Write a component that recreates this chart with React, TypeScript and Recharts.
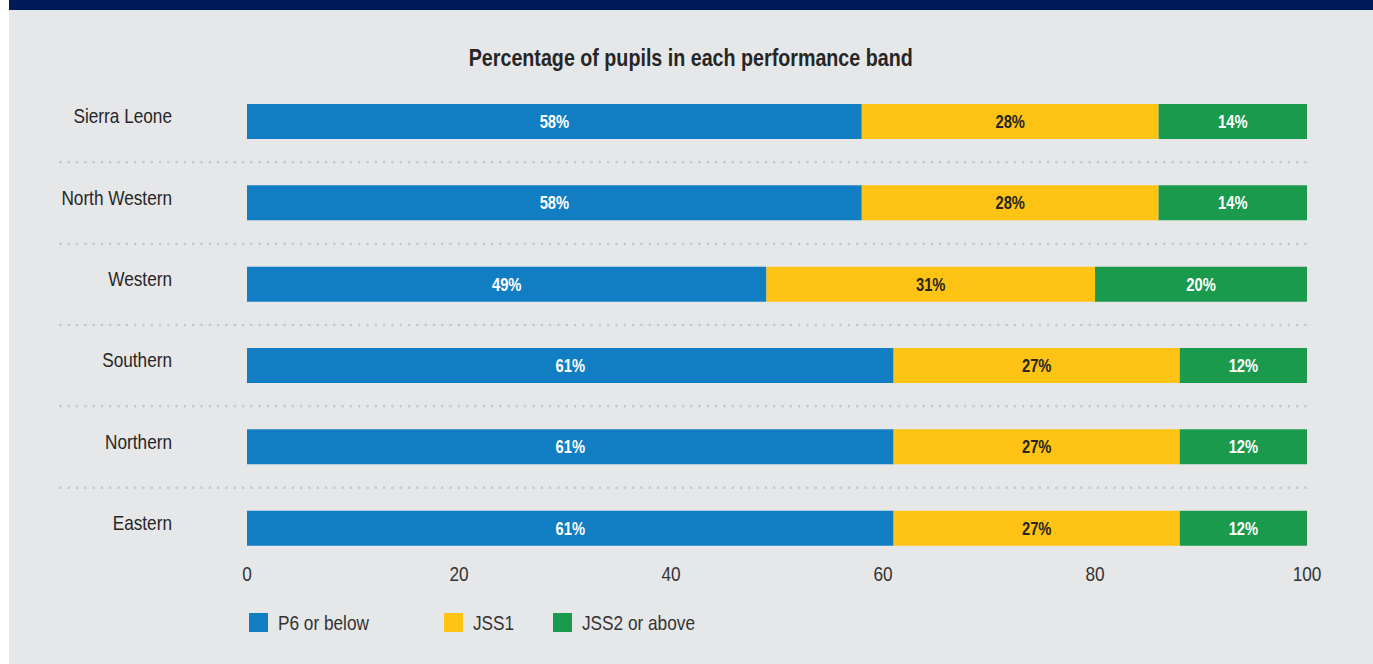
import React from 'react';
import {
  BarChart,
  Bar,
  XAxis,
  YAxis,
  LabelList,
  ReferenceLine,
  Legend,
} from 'recharts';

const regions = ['Sierra Leone', 'North Western', 'Western', 'Southern', 'Northern', 'Eastern'];
const p6OrBelow = [58, 58, 49, 61, 61, 61];
const jss1 = [28, 28, 31, 27, 27, 27];
const jss2OrAbove = [14, 14, 20, 12, 12, 12];
const xTicks = [0, 20, 40, 60, 80, 100];
const seriesNames = ['P6 or below', 'JSS1', 'JSS2 or above'];

const FONT = '"Liberation Sans", Arial, sans-serif';
const NARROW = 0.82; // no narrow face installed, so squeeze the regular one
const BLUE = '#117ec4';
const YELLOW = '#fec313';
const GREEN = '#1a9a4d';
const seriesColors = [BLUE, YELLOW, GREEN];
const TEXT = '#262626';

const rows = regions.map((region, i) => ({
  region,
  p6: p6OrBelow[i],
  jss1: jss1[i],
  jss2: jss2OrAbove[i],
}));

// dotted separator above every region except the first (drawn at band start)
const separators = regions.slice(1);
const separatorStart = -17.6; // in x-axis units, reaches left under the labels

const NarrowText = ({ x, y, anchor, children, ...rest }: any) => (
  <text
    transform={`translate(${x},${y}) scale(${NARROW},1)`}
    textAnchor={anchor}
    dy="0.36em"
    fontFamily={FONT}
    {...rest}
  >
    {children}
  </text>
);

const RegionTick = ({ x, y, payload }: any) => (
  <NarrowText x={x} y={y - 6} anchor="end" fill={TEXT} fontSize={21}>
    {payload.value}
  </NarrowText>
);

const ValueTick = ({ x, y, payload }: any) => (
  <NarrowText x={x} y={y + 4} anchor="middle" fill="#333" fontSize={21}>
    {payload.value}
  </NarrowText>
);

const makeBarLabel = (color: string) => (props: any) => {
  const { x, y, width, height, value } = props;
  return (
    <NarrowText
      x={Number(x) + Number(width) / 2}
      y={Number(y) + Number(height) / 2}
      anchor="middle"
      fill={color}
      fontSize={18}
      fontWeight={700}
    >
      {`${value}%`}
    </NarrowText>
  );
};

const legendWidths = [195, 109, 160];

const renderLegend = () => (
  <div style={{ display: 'flex', alignItems: 'center', fontFamily: FONT, fontSize: 21, color: '#333', whiteSpace: 'nowrap' }}>
    {seriesNames.map((name, i) => (
      <div key={name} style={{ display: 'flex', alignItems: 'center', width: legendWidths[i] }}>
        <span style={{ width: 19, height: 19, background: seriesColors[i], marginRight: 10, display: 'inline-block', flex: 'none' }} />
        <span
          style={{
            lineHeight: '19px',
            display: 'inline-block',
            transform: `scaleX(${NARROW})`,
            transformOrigin: 'left center',
          }}
        >
          {name}
        </span>
      </div>
    ))}
  </div>
);

export default function App() {
  return (
    <div
      style={{
        position: 'absolute',
        left: 9,
        top: 0,
        width: 1364,
        height: 664,
        background: '#e6e7e9',
        fontFamily: FONT,
      }}
    >
      <div style={{ position: 'absolute', left: 0, top: 0, width: '100%', height: 10, background: '#001a57' }} />
      <div
        style={{
          position: 'absolute',
          top: 44,
          left: 0,
          width: '100%',
          textAlign: 'center',
          fontSize: 24,
          fontWeight: 700,
          color: TEXT,
          lineHeight: '28px',
        }}
      >
        <span style={{ display: 'inline-block', transform: `scaleX(${NARROW})`, transformOrigin: 'center' }}>
          Percentage of pupils in each performance band
        </span>
      </div>
      <div style={{ position: 'absolute', left: 0, top: 0 }}>
        <BarChart
          width={1364}
          height={664}
          data={rows}
          layout="vertical"
          margin={{ top: 81, right: 66, bottom: 65, left: 0 }}
        >
          <XAxis
            type="number"
            domain={[0, 100]}
            ticks={xTicks}
            axisLine={false}
            tickLine={false}
            tickSize={0}
            tickMargin={0}
            height={30}
            tick={<ValueTick />}
            interval={0}
          />
          <YAxis
            type="category"
            dataKey="region"
            width={238}
            axisLine={false}
            tickLine={false}
            tickSize={0}
            tickMargin={75}
            tick={<RegionTick />}
            interval={0}
          />
          {separators.map((r) => (
            <ReferenceLine
              key={r}
              position="start"
              segment={[
                { x: separatorStart, y: r },
                { x: 100, y: r },
              ]}
              ifOverflow="visible"
              stroke="#c3c5c8"
              strokeWidth={2.5}
              strokeDasharray="0 8.3"
              strokeLinecap="round"
            />
          ))}
          <Legend
            layout="horizontal"
            verticalAlign="middle"
            align="center"
            content={renderLegend}
            wrapperStyle={{ position: 'absolute', left: 240, top: 613, width: 'auto', height: 19 }}
          />
          <Bar dataKey="p6" name={seriesNames[0]} stackId="a" fill={BLUE} barSize={35} isAnimationActive={false}>
            <LabelList dataKey="p6" content={makeBarLabel('#fff')} />
          </Bar>
          <Bar dataKey="jss1" name={seriesNames[1]} stackId="a" fill={YELLOW} barSize={35} isAnimationActive={false}>
            <LabelList dataKey="jss1" content={makeBarLabel(TEXT)} />
          </Bar>
          <Bar dataKey="jss2" name={seriesNames[2]} stackId="a" fill={GREEN} barSize={35} isAnimationActive={false}>
            <LabelList dataKey="jss2" content={makeBarLabel('#fff')} />
          </Bar>
        </BarChart>
      </div>
    </div>
  );
}
